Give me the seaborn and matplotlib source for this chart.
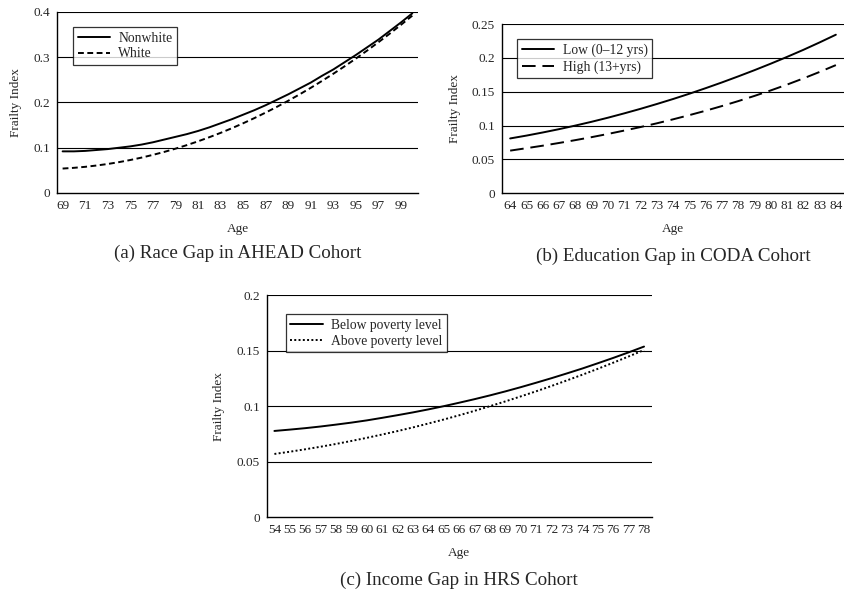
import numpy as np
import pandas as pd
import matplotlib.pyplot as plt
import seaborn as sns

# (a) race gap, AHEAD cohort
ages_a = list(range(69, 101))
nonwhite = [0.092, 0.092, 0.093, 0.095, 0.097, 0.100, 0.103, 0.107, 0.112, 0.118,
            0.124, 0.130, 0.137, 0.145, 0.154, 0.163, 0.173, 0.183, 0.194, 0.206,
            0.218, 0.231, 0.244, 0.259, 0.273, 0.289, 0.305, 0.322, 0.339, 0.358,
            0.377, 0.397]
white = [0.054, 0.0556, 0.0578, 0.0607, 0.0641, 0.0682, 0.0729, 0.0782, 0.0842, 0.0907,
         0.0979, 0.1057, 0.1141, 0.1232, 0.1328, 0.1431, 0.1540, 0.1655, 0.1777, 0.1904,
         0.2038, 0.2178, 0.2324, 0.2477, 0.2635, 0.2800, 0.2971, 0.3148, 0.3332, 0.3521,
         0.3717, 0.3919]

# (b) education gap, CODA cohort
ages_b = list(range(64, 85))
edu_low = [0.0810, 0.0852, 0.0898, 0.0947, 0.1000, 0.1056, 0.1116, 0.1180, 0.1247, 0.1318,
           0.1392, 0.1470, 0.1552, 0.1637, 0.1726, 0.1818, 0.1914, 0.2014, 0.2118, 0.2228,
           0.2342]
edu_high = [0.063, 0.0666, 0.0703, 0.0743, 0.0785, 0.0829, 0.0876, 0.0926, 0.0978, 0.1033,
            0.1092, 0.1154, 0.1219, 0.1288, 0.1361, 0.1438, 0.1519, 0.1605, 0.1696, 0.1792,
            0.1893]

# (c) income gap, HRS cohort
ages_c = list(range(54, 79))
below_pov = [0.0777, 0.0789, 0.0802, 0.0817, 0.0834, 0.0852, 0.0872, 0.0895, 0.0919, 0.0944,
             0.0971, 0.1000, 0.1031, 0.1063, 0.1097, 0.1133, 0.1171, 0.1211, 0.1252, 0.1295,
             0.1339, 0.1386, 0.1434, 0.1484, 0.1536]
above_pov = [0.0570, 0.0590, 0.0612, 0.0635, 0.0660, 0.0687, 0.0715, 0.0745, 0.0776, 0.0809,
             0.0844, 0.0880, 0.0918, 0.0958, 0.1000, 0.1043, 0.1088, 0.1134, 0.1182, 0.1232,
             0.1283, 0.1336, 0.1391, 0.1447, 0.1505]

sns.set_theme(style='white')
plt.rcParams['font.family'] = ['Liberation Serif', 'DejaVu Serif']

fig = plt.figure(figsize=(8.44, 5.9), dpi=100)


def panel(rect, ages, series, dashes, ymax, ystep, xstep, caption, cap_y, legend_box):
    ax = fig.add_axes(rect)
    df = pd.DataFrame({'Age': ages * len(series),
                       'Frailty': [v for _, vals in series for v in vals],
                       'Group': [name for name, vals in series for _ in vals]})
    sns.lineplot(data=df, x='Age', y='Frailty', hue='Group', style='Group',
                 palette=['black'] * len(series), dashes=dashes, linewidth=1.4, ax=ax)
    ax.set_xlim(ages[0] - 0.5, ages[-1] + 0.5)
    ax.set_ylim(0, ymax)
    yt = np.arange(0, ymax + ystep / 2, ystep)
    ax.set_yticks(yt)
    ax.set_yticklabels(['0' if v == 0 else f'{v:g}' for v in np.round(yt, 2)], fontsize=9.5)
    ax.set_xticks(ages[::xstep])
    ax.set_xticklabels([str(a) for a in ages[::xstep]], fontsize=9.5)
    ax.tick_params(length=0, pad=5)
    for v in yt[1:]:
        ax.axhline(v, color='black', lw=0.8, zorder=0)
    ax.grid(False)
    for s in ['top', 'right']:
        ax.spines[s].set_visible(False)
    for s in ['left', 'bottom']:
        ax.spines[s].set_color('black')
        ax.spines[s].set_linewidth(1.0)
    ax.set_xlabel('Age', fontsize=9.5, labelpad=8)
    ax.set_ylabel('Frailty Index', fontsize=9.5, labelpad=8)
    leg = ax.legend(loc='upper left', bbox_to_anchor=legend_box, fontsize=9.8,
                    frameon=True, fancybox=False, edgecolor='black', handlelength=2.4,
                    borderpad=0.35, labelspacing=0.2, handletextpad=0.6,
                    borderaxespad=0)
    leg.get_frame().set_linewidth(0.9)
    fig.text(rect[0] + rect[2] / 2, cap_y, caption, ha='center', va='center', fontsize=13.7)
    return ax


panel([0.0675, 0.6729, 0.4277, 0.3068], ages_a,
      [('Nonwhite', nonwhite), ('White', white)],
      [(), (3, 1.8)], 0.4, 0.1, 2,
      '(a) Race Gap in AHEAD Cohort', 1 - 253 / 590, (0.044, 0.917))

panel([0.5948, 0.6724, 0.4052, 0.2869], ages_b,
      [('Low (0\u201312 yrs)', edu_low), ('High (13+yrs)', edu_high)],
      [(), (7, 3.5)], 0.25, 0.05, 1,
      '(b) Education Gap in CODA Cohort', 1 - 256 / 590, (0.044, 0.911))

panel([0.316, 0.1232, 0.4562, 0.3768], ages_c,
      [('Below poverty level', below_pov), ('Above poverty level', above_pov)],
      [(), (1, 1.2)], 0.2, 0.05, 1,
      '(c) Income Gap in HRS Cohort', 1 - 580 / 590, (0.049, 0.914))

fig.savefig('out.png', dpi=100)
